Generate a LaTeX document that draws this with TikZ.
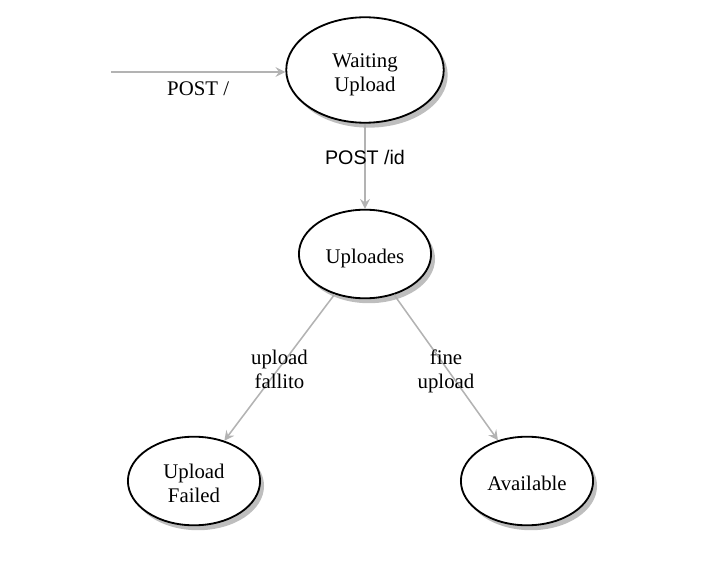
\documentclass[tikz,border=0pt]{standalone}
\usepackage{fontspec}
\setmainfont{Liberation Serif}
\newfontfamily\labelsans{Liberation Sans}
\usepackage{tikz}
\usetikzlibrary{shapes.geometric,arrows.meta,positioning,shadows}
\usepackage{xcolor}
\definecolor{edgegray}{RGB}{179,179,179}
\definecolor{shadowgray}{RGB}{190,190,190}

% state name, set a little below the centre of its ellipse
\newcommand{\stlabel}[1]{\raisebox{-3.5pt}[\height][\depth]{\begin{tabular}{@{}c@{}}#1\end{tabular}}}

\tikzset{
    statenode/.style={ellipse, draw, line width=1.3pt, fill=white, inner sep=0pt,
        minimum width=94pt, minimum height=63pt,
        font=\fontsize{14.8}{17}\selectfont,
        drop shadow={shadow xshift=2.8pt, shadow yshift=-3.5pt, fill=shadowgray, opacity=1}},
    trans/.style={draw=edgegray, line width=1.1pt, -{Stealth[length=7pt, width=7pt, inset=2.5pt]}},
    translabel/.style={font=\fontsize{14.8}{17}\selectfont, align=center}
}

\begin{document}
\begin{tikzpicture}[x=0.025cm, y=-0.025cm]
    \useasboundingbox (0,0) rectangle (724,577);

    \node[statenode, minimum width=112pt, minimum height=75pt] (wait) at (365,70) {\stlabel{Waiting\\Upload}};
    \node[statenode] (uploading) at (365,254) {\stlabel{Uploades}};
    \node[statenode] (failed) at (194,481) {\stlabel{Upload\\Failed}};
    \node[statenode] (available) at (527,481) {\stlabel{Available}};

    \coordinate (start) at (111,72);

    \draw[trans] (start) -- (wait.west |- start) node[midway, below, translabel, yshift=-3pt] {POST /};
    \draw[trans] (wait) -- (uploading) node[pos=0.4, font=\labelsans\fontsize{14}{17}\selectfont] {POST /id};
    \draw[trans] (uploading) -- (failed) node[midway, translabel, yshift=-1.5pt] {upload\\fallito};
    \draw[trans] (uploading) -- (available) node[midway, translabel, yshift=-2.5pt] {fine\\upload};
\end{tikzpicture}
\end{document}
